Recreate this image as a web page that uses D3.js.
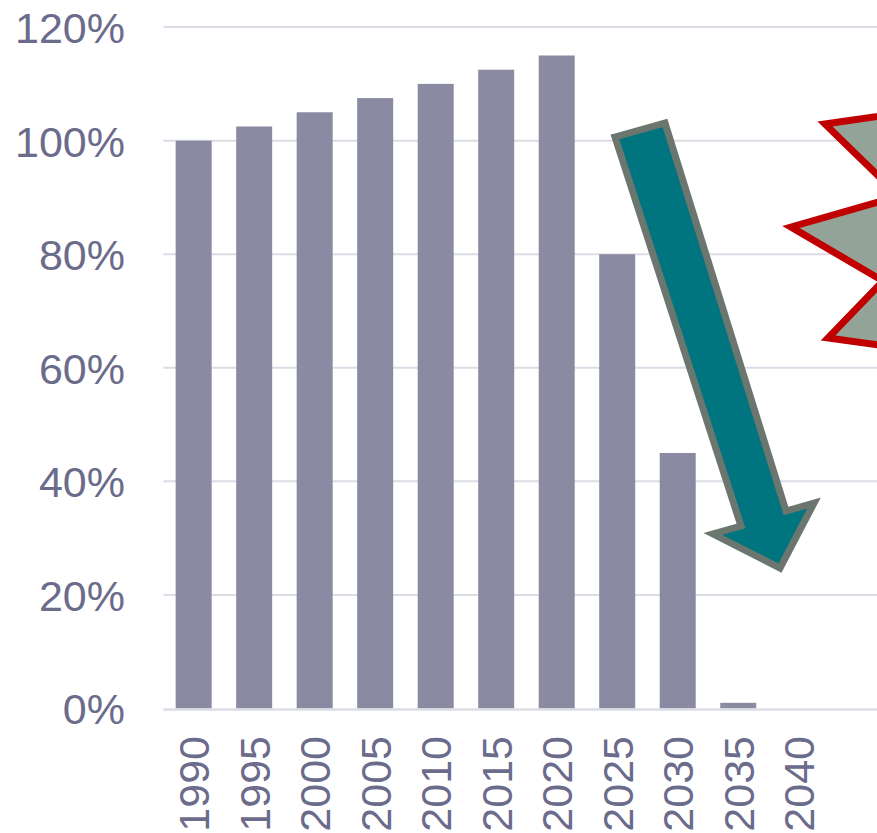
<!DOCTYPE html>
<html>
<head>
<meta charset="utf-8">
<script src="https://cdn.jsdelivr.net/npm/d3@7/dist/d3.min.js"></script>
<style>
  html, body { margin: 0; padding: 0; background: #fff; overflow: hidden; }
  svg { display: block; }
  text { font-family: "Liberation Sans", Arial, sans-serif; }
</style>
</head>
<body>
<svg id="chart" width="877" height="833"></svg>
<script>
// ---- data ----
const years = ["1990","1995","2000","2005","2010","2015","2020","2025","2030","2035","2040"];
const values = [100, 102.5, 105, 107.5, 110, 112.5, 115, 80, 45, 1, 0];
const yTicks = [0, 20, 40, 60, 80, 100, 120];

const W = 877, H = 833;
const svg = d3.select("#chart");

const plotLeft = 163.4, plotRight = 829, gridRight = 877;
const y0 = 708.5, yTop = 27.1;

const x = d3.scaleBand().domain(years).range([plotLeft, plotRight])
  .paddingInner(0.405).paddingOuter(0.2025);
const y = d3.scaleLinear().domain([0, 120]).range([y0, yTop]);

const textColor = "#6b6b8b";
const gridColor = "#dcdce6";
const barColor = "#8a8aa2";

// gridlines
svg.append("g").selectAll("line").data(yTicks.filter(d => d > 0)).join("line")
  .attr("x1", plotLeft).attr("x2", gridRight)
  .attr("y1", d => y(d)).attr("y2", d => y(d))
  .attr("stroke", gridColor).attr("stroke-width", 2);

// bars
svg.append("g").selectAll("rect").data(years.map((yr, i) => ({yr, v: values[i]})).filter(d => d.v > 0)).join("rect")
  .attr("x", d => x(d.yr)).attr("width", x.bandwidth())
  .attr("y", d => y(d.v)).attr("height", d => y(0) - y(d.v))
  .attr("fill", barColor);

// baseline
svg.append("line")
  .attr("x1", plotLeft).attr("x2", gridRight)
  .attr("y1", y(0) + 1).attr("y2", y(0) + 1)
  .attr("stroke", gridColor).attr("stroke-width", 2.5);

// y axis labels
const yAxis = d3.axisLeft(y).tickValues(yTicks).tickFormat(d => d + "%").tickSize(0).tickPadding(0);
const gy = svg.append("g").attr("transform", "translate(125,0)").call(yAxis);
gy.select(".domain").remove();
gy.selectAll("text").attr("fill", textColor).style("font-size", "43px")
  .style("font-family", "'Liberation Sans', Arial, sans-serif").attr("dy", "0.36em");

// x axis labels (rotated)
const xAxis = d3.axisBottom(x).tickSize(0).tickPadding(0);
const gx = svg.append("g").attr("transform", "translate(0,736)").call(xAxis);
gx.select(".domain").remove();
gx.selectAll("text")
  .attr("fill", textColor).style("font-size", "43px")
  .style("font-family", "'Liberation Sans', Arial, sans-serif")
  .attr("y", 0).attr("x", 0).attr("dy", "0.36em")
  .attr("text-anchor", "end")
  .attr("transform", "rotate(-90)");

// decorative arrow
const arrowPts = [[615,137],[665,123],[786,511],[814,503],[780,568],[713,534],[741,526]];
svg.append("path")
  .attr("d", d3.line()(arrowPts) + "Z")
  .attr("fill", "#007580")
  .attr("stroke", "#6b766e").attr("stroke-width", 7).attr("stroke-linejoin", "miter");

// decorative burst (cut off at right edge)
const starPts = [[825,124],[899,196],[791,227],[883,281],[828,338],[1000,362],[1000,99]];
svg.append("path")
  .attr("d", d3.line()(starPts) + "Z")
  .attr("fill", "#93a398")
  .attr("stroke", "#c00000").attr("stroke-width", 7).attr("stroke-linejoin", "miter");
</script>
</body>
</html>
